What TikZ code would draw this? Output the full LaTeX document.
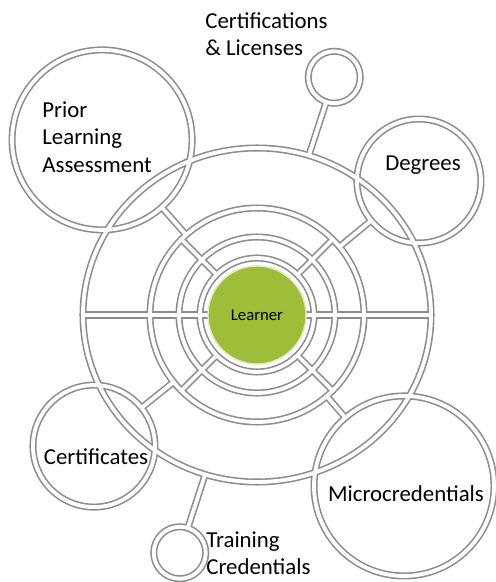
\documentclass[tikz,border=0pt]{standalone}
\usepackage{fontspec}
\setmainfont{Carlito}
\usetikzlibrary{calc}

\definecolor{pipegray}{RGB}{140,140,140}
\definecolor{learnergreen}{RGB}{158,190,58}
\tikzset{
  label/.style={font=\fontsize{13}{15.5}\selectfont, align=left, inner sep=0pt},
  hub/.style={circle, fill=learnergreen, draw=learnergreen!35!white, line width=0.8pt,
    inner sep=0pt, font=\fontsize{9.5}{11}\selectfont},
}

\begin{document}
\begin{tikzpicture}[x=0.02cm, y=0.02cm]
  \useasboundingbox (0,0) rectangle (496,582);
  % centre of the rings
  \coordinate (L) at (257,267);
  % outer circles, placed around the centre
  \foreach \name/\ang/\dist in {pla/131.5/233.8, deg/39.6/210.2, cert/218.8/209.2,
      micro/310.7/225.5, cl/72/250, tc/252/250}
    \coordinate (\name) at ($(L)+(\ang:\dist)$);

  % every pipe is drawn twice: grey walls first, white core on top
  \foreach \wd/\col in {4pt/pipegray, 2.2pt/white}{
    \begin{scope}[line width=\wd, draw=\col, line cap=round]
      \draw (L) ellipse[x radius=174, y radius=167];
      \draw (L) circle[radius=107];
      \draw (L) circle[radius=78];
      \draw (L) circle[radius=57];
      % spokes
      \draw ($(L)+(180:174)$) -- ($(L)+(180:49)$);
      \draw ($(L)+(0:49)$) -- ($(L)+(0:174)$);
      \foreach \a in {45,135,225,315}
        \draw ($(L)+(\a:57)$) -- ($(L)+(\a:107)$);
      % outer circles and the pipes into them
      \foreach \name/\ang/\dist/\rad in {pla/131.5/233.8/90, deg/39.6/210.2/62,
          cert/218.8/209.2/61, micro/310.7/225.5/90}{
        \draw (\name) circle[radius=\rad];
        \draw ($(L)+(\ang:107)$) -- ($(L)+(\ang:\dist-\rad)$);
      }
      \draw (cl) circle[radius=26];
      \draw (tc) circle[radius=26];
      \draw ($(L)+(72:167.6)$) -- ($(L)+(72:224)$);
      \draw ($(L)+(252:167.6)$) -- ($(L)+(252:224)$);
    \end{scope}
  }

  \node[hub, minimum size=1.96cm] (learner) at (L) {Learner};

  \node[label, anchor=west] (plaT) at (42,445) {Prior\\Learning\\Assessment};
  \node[label] (degT) at (423,417) {Degrees};
  \node[label, anchor=west] (clT) at (205,548) {Certifications\\\& Licenses};
  \node[label] (certT) at (96,125) {Certificates};
  \node[label] (microT) at (406,88) {Microcredentials};
  \node[label, anchor=west] (tcT) at (206,29) {Training\\Credentials};
\end{tikzpicture}
\end{document}
